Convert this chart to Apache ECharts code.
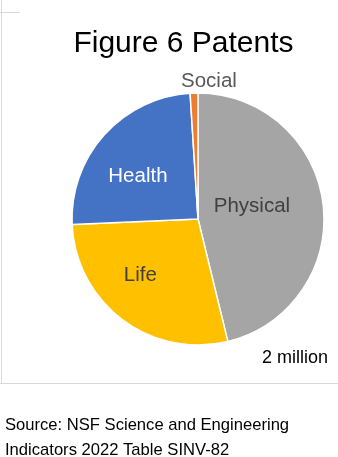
<!DOCTYPE html>
<html>
<head>
<meta charset="utf-8">
<script src="https://cdn.jsdelivr.net/npm/echarts@6/dist/echarts.min.js"></script>
<style>
html,body{margin:0;padding:0;background:#fff;}
#c{width:338px;height:457px;}
</style>
</head>
<body>
<div id="c"></div>
<script>
var categories = ['Physical', 'Life', 'Health', 'Social'];
var values = [924, 562, 494, 20]; // thousands of patents (total ~2 million)
var colors = ['#A5A5A5', '#FFC000', '#4472C4', '#ED7D31'];
var titleText = 'Figure 6 Patents';
var totalNote = '2 million';
var sourceLines = ['Source: NSF Science and Engineering', 'Indicators 2022 Table SINV-82'];

var labelStyles = {
  Physical: {color: '#404040', offset: [-11.6, -4.5]},
  Life: {color: '#404040', offset: [-18, 4]},
  Health: {color: '#ffffff', offset: [-11, 1.5]},
  Social: {color: '#595959', offset: [13, -72]}
};

var font = '"Liberation Sans", Arial, sans-serif';
var chart = echarts.init(document.getElementById('c'), null, {renderer: 'canvas'});

var data = categories.map(function (name, i) {
  return {
    name: name,
    value: values[i],
    itemStyle: {color: colors[i]},
    label: {color: labelStyles[name].color, offset: labelStyles[name].offset}
  };
});

chart.setOption({
  animation: false,
  backgroundColor: '#ffffff',
  graphic: [
    {type: 'line', shape: {x1: 1.5, y1: 0, x2: 1.5, y2: 383}, style: {stroke: '#d9d9d9', lineWidth: 1}},
    {type: 'line', shape: {x1: 0, y1: 12.5, x2: 20, y2: 12.5}, style: {stroke: '#d9d9d9', lineWidth: 1}},
    {type: 'line', shape: {x1: 0, y1: 383.5, x2: 338, y2: 383.5}, style: {stroke: '#d9d9d9', lineWidth: 1}},
    {type: 'text', x: 183.5, y: 44, style: {text: titleText, font: '30px ' + font, fill: '#000000', textAlign: 'center', textVerticalAlign: 'middle'}},
    {type: 'text', x: 295, y: 358, style: {text: totalNote, font: '18px ' + font, fill: '#000000', textAlign: 'center', textVerticalAlign: 'middle'}},
    {type: 'text', x: 5, y: 425, style: {text: sourceLines[0], font: '16.6px ' + font, fill: '#000000', textAlign: 'left', textVerticalAlign: 'middle'}},
    {type: 'text', x: 5, y: 450.5, style: {text: sourceLines[1], font: '16.6px ' + font, fill: '#000000', textAlign: 'left', textVerticalAlign: 'middle'}}
  ],
  series: [{
    type: 'pie',
    center: [198, 219],
    radius: [0, 126],
    startAngle: 90,
    clockwise: true,
    avoidLabelOverlap: false,
    itemStyle: {borderColor: '#ffffff', borderWidth: 1.5},
    label: {show: true, position: 'inside', fontSize: 20.5, fontFamily: font, formatter: '{b}'},
    labelLine: {show: false},
    emphasis: {disabled: true},
    data: data
  }]
});
</script>
</body>
</html>
